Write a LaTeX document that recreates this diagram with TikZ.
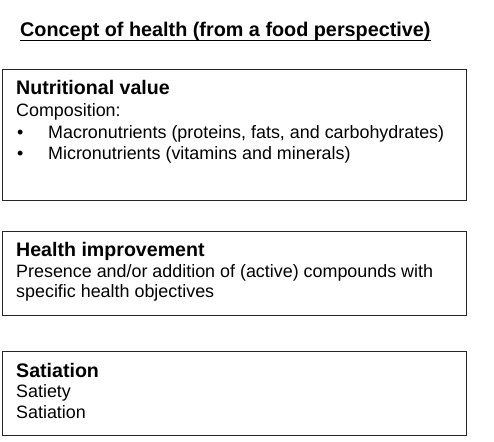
\documentclass[tikz,border=0pt]{standalone}
\usepackage{fontspec}
\setmainfont{Liberation Sans}
\usepackage{tikz}
\usetikzlibrary{positioning}

\tikzset{
    box/.style={draw=black!85, line width=1pt, minimum width=464pt, inner sep=0pt},
    txt/.style={anchor=base west, inner sep=0pt, font=\fontsize{17.9}{21}\selectfont},
    head/.style={anchor=base west, inner sep=0pt, font=\fontsize{19.6}{23}\selectfont\bfseries},
}

\begin{document}
\begin{tikzpicture}[x=1pt, y=-1pt]
        \useasboundingbox (0,0) rectangle (494,441);
        % title
        \node[head, font=\fontsize{19.8}{23}\selectfont\bfseries] (title) at (20,36.5) {Concept of health (from a food perspective)};
        \draw[line width=1.6pt] ([yshift=-4pt]title.base west) -- ([yshift=-4pt]title.base east);
        % boxes
        \node[box, minimum height=130pt] (nutri) at (234,135) {};
        \node[box, minimum height=84pt] (improve) at (234,273) {};
        \node[box, minimum height=84pt] (satiate) at (234,393) {};
        % nutritional value
        \node[head] (nutrih) at (16,94.3) {Nutritional value};
        \node[txt] (comp) at (16,116) {Composition:};
        \foreach \y/\t [count=\i] in {138/Macronutrients (proteins{,} fats{,} and carbohydrates), 159.5/Micronutrients (vitamins and minerals)}
        {
            \node[txt] (dot\i) at (17,\y) {\textbullet};
            \node[txt] (item\i) at (48,\y) {\t};
        }
        % health improvement
        \node[head] (improveh) at (16,256) {Health improvement};
        \node[txt] (pres) at (16,277) {Presence and/or addition of (active) compounds with};
        \node[txt] (spec) at (16,297.5) {specific health objectives};
        % satiation
        \node[head] (satiateh) at (16,377) {Satiation};
        \node[txt] (satiety) at (16,397.5) {Satiety};
        \node[txt] (satiation) at (16,418) {Satiation};
    \end{tikzpicture}
\end{document}
